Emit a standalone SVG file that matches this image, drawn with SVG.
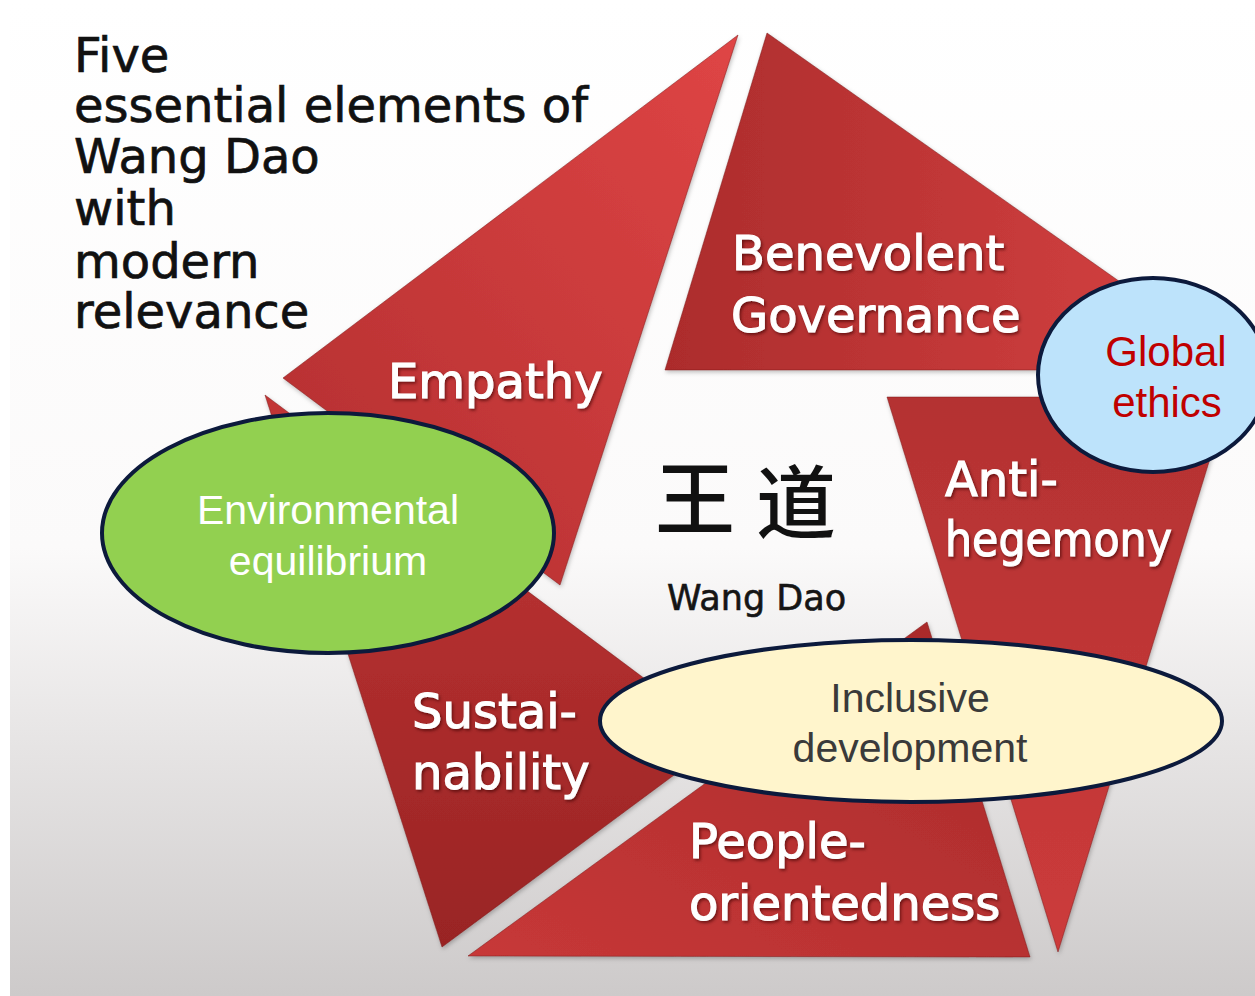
<svg xmlns="http://www.w3.org/2000/svg" width="1255" height="996" viewBox="0 0 1255 996">
<defs>
<linearGradient id="bg" x1="0" y1="0" x2="0" y2="1">
<stop offset="0" stop-color="#ffffff"/>
<stop offset="0.55" stop-color="#fbfafa"/>
<stop offset="0.75" stop-color="#e6e4e4"/>
<stop offset="1" stop-color="#cdcaca"/>
</linearGradient>
<linearGradient id="gEmp" x1="1" y1="0" x2="0" y2="1">
<stop offset="0" stop-color="#df4545"/>
<stop offset="1" stop-color="#b12e2f"/>
</linearGradient>
<linearGradient id="gBen" x1="0" y1="0" x2="1" y2="0">
<stop offset="0" stop-color="#ac2c2c"/>
<stop offset="1" stop-color="#d84343"/>
</linearGradient>
<linearGradient id="gAnti" x1="0" y1="0" x2="0" y2="1">
<stop offset="0" stop-color="#b43232"/>
<stop offset="1" stop-color="#cc3b3b"/>
</linearGradient>
<linearGradient id="gPeo" x1="0" y1="1" x2="1" y2="0">
<stop offset="0" stop-color="#c73838"/>
<stop offset="1" stop-color="#a82a2a"/>
</linearGradient>
<linearGradient id="gSus" x1="0" y1="0" x2="0" y2="1">
<stop offset="0" stop-color="#c33636"/>
<stop offset="1" stop-color="#992424"/>
</linearGradient>
<filter id="tshadow" x="-10%" y="-20%" width="130%" height="150%">
<feDropShadow dx="1.5" dy="2" stdDeviation="1.5" flood-color="#3a0000" flood-opacity="0.6"/>
</filter>
<filter id="pshadow" x="-5%" y="-5%" width="115%" height="115%">
<feDropShadow dx="1" dy="2" stdDeviation="2" flood-color="#000" flood-opacity="0.25"/>
</filter>
</defs>
<style>
.tri{stroke:#7e1a1a;stroke-width:1;stroke-opacity:0.5;filter:url(#pshadow)}
.lbl{font-family:"DejaVu Sans",sans-serif;font-size:48px;fill:#ffffff;stroke:#ffffff;stroke-width:1.1;filter:url(#tshadow)}
.title{font-family:"DejaVu Sans",sans-serif;font-size:48px;fill:#111111;stroke:#111111;stroke-width:0.7}
.ell{stroke:#0c1a3c;stroke-width:4}
.etxt{font-family:"Liberation Sans",Arial,sans-serif;font-size:41px;text-anchor:middle}
</style>
<rect x="0" y="0" width="1255" height="996" fill="url(#bg)"/>
<rect x="0" y="0" width="10" height="996" fill="#ffffff"/>

<g id="title">
<text class="title" x="74" y="72">Five</text>
<text class="title" x="74" y="122">essential elements of</text>
<text class="title" x="74" y="173">Wang Dao</text>
<text class="title" x="74" y="225">with</text>
<text class="title" x="74" y="278">modern</text>
<text class="title" x="74" y="328">relevance</text>
</g>

<g id="empathy">
<polygon class="tri" points="738,35 283,378 560,585" fill="url(#gEmp)"/>
<text class="lbl" x="388" y="398">Empathy</text>
</g>

<g id="benevolent-governance">
<polygon class="tri" points="767,33 665,370 1245,370" fill="url(#gBen)"/>
<text class="lbl" x="732" y="270">Benevolent</text>
<text class="lbl" x="731" y="332">Governance</text>
</g>

<g id="anti-hegemony">
<polygon class="tri" points="887,397 1229,397 1058,952" fill="url(#gAnti)"/>
<text class="lbl" x="945" y="496">Anti-</text>
<text class="lbl" x="945" y="556" textLength="227" lengthAdjust="spacingAndGlyphs">hegemony</text>
</g>

<g id="people-orientedness">
<polygon class="tri" points="468,956 1030,957 927,622" fill="url(#gPeo)"/>
<text class="lbl" x="689" y="858">People-</text>
<text class="lbl" x="689" y="920">orientedness</text>
</g>

<g id="sustainability">
<polygon class="tri" points="265,395 724,738 442,947" fill="url(#gSus)"/>
<text class="lbl" x="412" y="728">Sustai-</text>
<text class="lbl" x="412" y="789">nability</text>
</g>

<g id="wang-dao-center">
<text x="695" y="528" font-family="'Noto Sans CJK SC','Noto Sans CJK JP',sans-serif" font-size="80" font-weight="500" fill="#111111" text-anchor="middle">王</text>
<text x="796" y="532" font-family="'Noto Sans CJK SC','Noto Sans CJK JP',sans-serif" font-size="80" font-weight="500" fill="#111111" text-anchor="middle">道</text>
<text x="667" y="610" font-family="'DejaVu Sans',sans-serif" font-size="35" fill="#151515" stroke="#151515" stroke-width="0.6">Wang Dao</text>
</g>

<g id="environmental-equilibrium">
<ellipse class="ell" cx="328" cy="533" rx="226" ry="120" fill="#92d050"/>
<text class="etxt" x="328" y="524" fill="#ffffff">Environmental</text>
<text class="etxt" x="328" y="575" fill="#ffffff">equilibrium</text>
</g>

<g id="inclusive-development">
<ellipse class="ell" cx="911" cy="721" rx="311" ry="81" fill="#fff5cc"/>
<text class="etxt" x="910" y="712" fill="#3a3a3a">Inclusive</text>
<text class="etxt" x="910" y="762" fill="#3a3a3a">development</text>
</g>

<g id="global-ethics">
<ellipse class="ell" cx="1153" cy="375" rx="115" ry="97" fill="#bde3fb"/>
<text class="etxt" x="1166" y="366" font-size="42" fill="#c00000" style="font-size:42px">Global</text>
<text class="etxt" x="1167" y="417" fill="#c00000" style="font-size:42px">ethics</text>
</g>
</svg>
